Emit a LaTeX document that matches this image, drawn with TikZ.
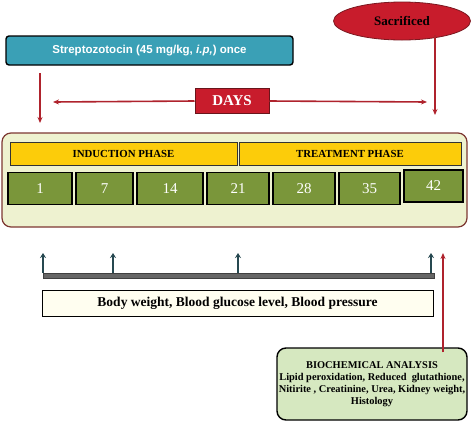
\documentclass[tikz,border=0pt]{standalone}
\usepackage{fontspec}
\setmainfont{Liberation Serif}
\setsansfont{Liberation Sans}
\usetikzlibrary{shapes.geometric,arrows.meta}
\definecolor{stzblue}{RGB}{58,160,182}
\definecolor{sacred}{RGB}{200,28,44}
\definecolor{arrred}{RGB}{175,35,45}
\definecolor{phasegold}{RGB}{252,204,10}
\definecolor{daygreen}{RGB}{122,150,58}
\definecolor{panelbg}{RGB}{238,242,208}
\definecolor{panelrim}{RGB}{125,55,50}
\definecolor{upteal}{RGB}{38,72,80}
\definecolor{biogreen}{RGB}{214,232,192}
\begin{document}
\begin{tikzpicture}[x=1pt,y=-1pt,>=Stealth,
  redarr/.style={draw=arrred,line width=1.6pt,-{Stealth[length=6pt,width=5pt]}},
  uparr/.style={draw=upteal,line width=2pt,-{Stealth[length=5pt,width=6pt]}},
  phase/.style={draw=black!80,line width=0.8pt,fill=phasegold,minimum height=23pt,inner sep=0pt,font=\bfseries\fontsize{10.8}{13}\selectfont},
  daybox/.style={draw=black,line width=1.4pt,fill=daygreen,text=white,minimum height=32pt,inner sep=0pt,font=\fontsize{15}{17}\selectfont}]
\useasboundingbox (0,0) rectangle (472,432);
% top row
\node[draw=black,line width=1.4pt,rounded corners=3pt,fill=stzblue,text=white,minimum width=287pt,minimum height=29pt,inner sep=0pt,font=\sffamily\bfseries\fontsize{11.5}{13}\selectfont] (stz) at (149.5,50.5) {Streptozotocin (45 mg/kg, \textit{i.p,}) once};
\node[ellipse,draw=arrred!70!black,line width=0.8pt,fill=sacred,minimum width=137pt,minimum height=38pt,inner sep=0pt,font=\bfseries\fontsize{13}{15}\selectfont] (sac) at (402,21) {Sacrificed};
\node[draw=arrred!60!black,line width=1pt,fill=sacred,text=white,minimum width=74pt,minimum height=25pt,inner sep=0pt,font=\bfseries\fontsize{15}{17}\selectfont] (days) at (232,101) {DAYS};
\coordinate (dl) at (53,102);
\coordinate (dr) at (427,102);
\draw[redarr] (days.west) -- (dl);
\draw[redarr] (days.east) -- (dr);
\coordinate (s0) at (40,73);
\coordinate (s1) at (40,123);
\draw[redarr] (s0) -- (s1);
\coordinate (e1) at (435,115);
\draw[redarr] (sac.south east -| e1) -- (e1);
% time line panel
\node[draw=panelrim,line width=1.2pt,rounded corners=9pt,fill=panelbg,minimum width=465pt,minimum height=94pt] (panel) at (234.5,180) {};
\node[phase,minimum width=227pt] (ind) at (123.5,153.5) {INDUCTION PHASE};
\node[phase,minimum width=222pt] (trt) at (350,153.5) {TREATMENT PHASE};
\foreach \d/\cx/\w in {1/40/64,7/104.5/57,14/170/66,21/238/62,28/304/62,35/369.5/61}
  \node[daybox,minimum width=\w pt] (d\d) at (\cx,188.5) {\d};
\node[daybox,minimum width=59pt] (d42) at (433.5,186) {42};
% sampling
\node[draw=black!75,line width=0.8pt,fill=black!60,minimum width=391pt,minimum height=5pt,inner sep=0pt] (bar) at (238.5,275.5) {};
\foreach \x [count=\i] in {43,113,238,431}{
  \coordinate (t\i) at (\x,253);
  \draw[uparr] (bar.north -| t\i) -- (t\i);
}
\node[draw=black,line width=1pt,fill=yellow!6,minimum width=391pt,minimum height=26pt,inner sep=0pt,font=\bfseries\fontsize{13.5}{15}\selectfont] (body) at (237.5,303) {Body weight, Blood glucose level, Blood pressure};
\node[draw=black,line width=1.4pt,rounded corners=9pt,fill=biogreen,minimum width=190pt,minimum height=72pt,inner sep=0pt,align=center,font=\bfseries\fontsize{10.4}{12}\selectfont] (bio) at (372,384) {BIOCHEMICAL ANALYSIS\\Lipid peroxidation, Reduced~ glutathione,\\Nitirite , Creatinine, Urea, Kidney weight,\\Histology};
\coordinate (r1) at (443,253);
\draw[redarr] ([yshift=-5pt]bio.north -| r1) -- (r1);
\end{tikzpicture}
\end{document}
